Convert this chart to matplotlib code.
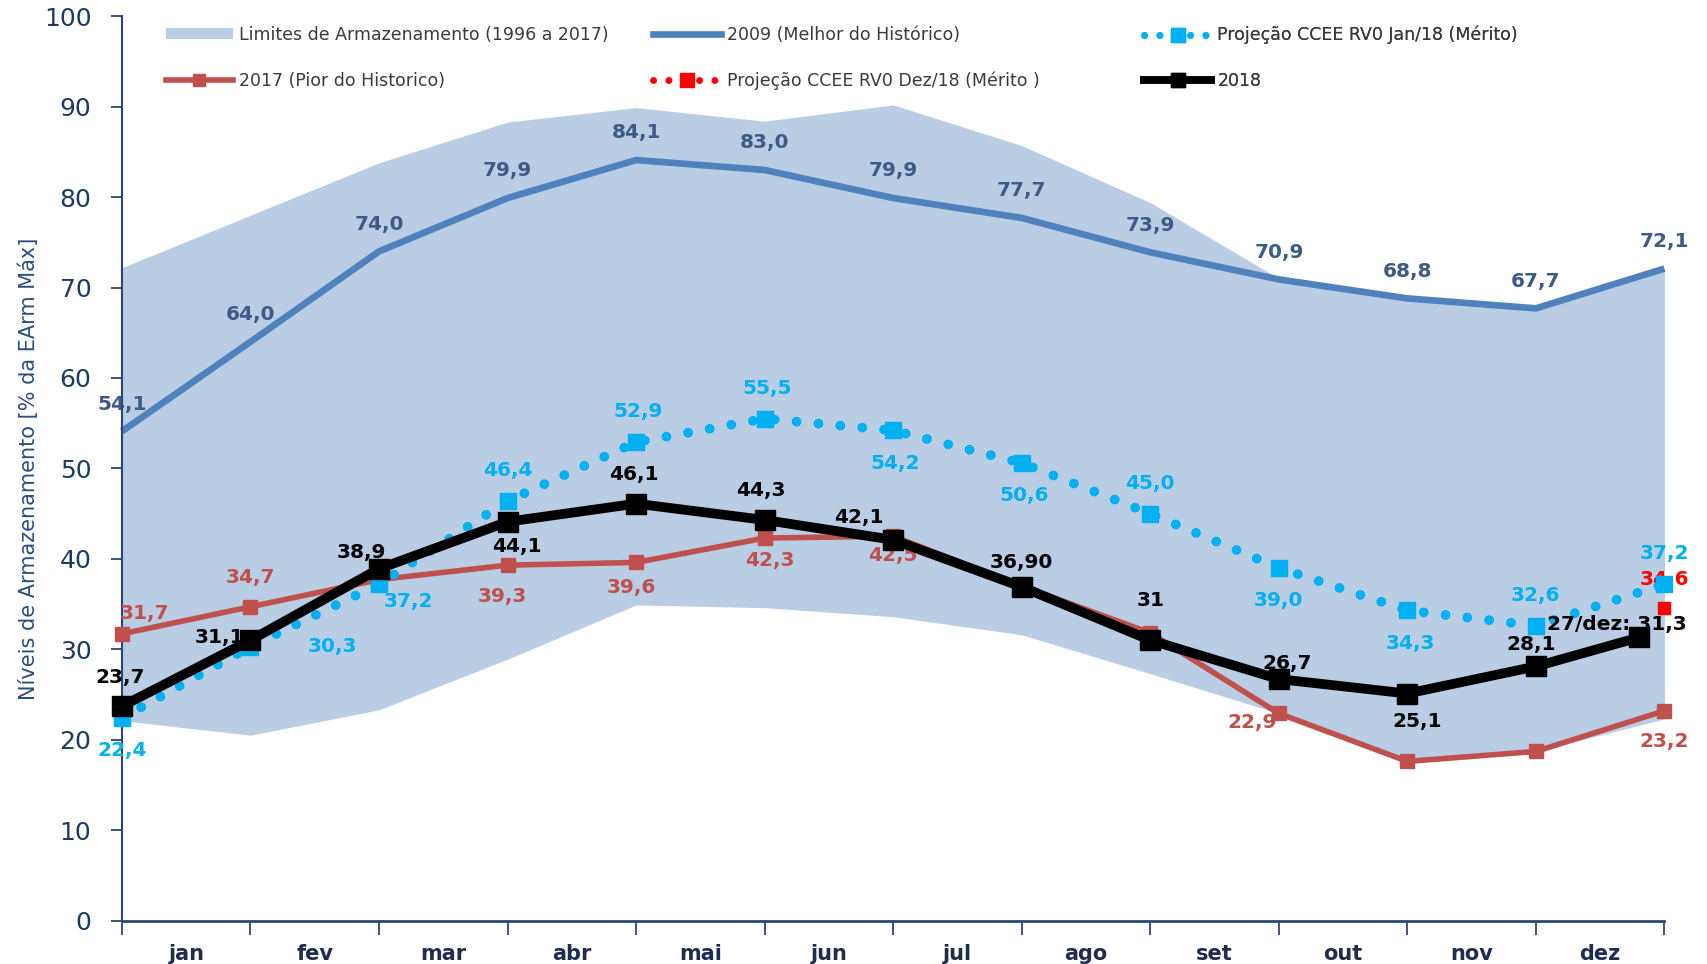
import matplotlib
matplotlib.use("Agg")
import matplotlib.pyplot as plt
from matplotlib.patches import Patch
from matplotlib.lines import Line2D

plt.rcParams['font.family'] = ['DejaVu Sans']

# data
meses = ['jan', 'fev', 'mar', 'abr', 'mai', 'jun', 'jul', 'ago', 'set', 'out', 'nov', 'dez']
x_pts = [0, 1, 2, 3, 4, 5, 6, 7, 8, 9, 10, 11, 12]

lim_sup = [72.2, 78.0, 83.8, 88.3, 89.9, 88.4, 90.2, 85.7, 79.4, 71.0, 68.8, 67.7, 72.1]
lim_inf = [22.1, 20.5, 23.3, 28.9, 34.9, 34.6, 33.6, 31.6, 27.3, 22.9, 17.6, 18.7, 22.3]

v2009 = [54.1, 64.0, 74.0, 79.9, 84.1, 83.0, 79.9, 77.7, 73.9, 70.9, 68.8, 67.7, 72.1]
lab2009 = ['54,1', '64,0', '74,0', '79,9', '84,1', '83,0', '79,9', '77,7', '73,9', '70,9', '68,8', '67,7', '72,1']

v2017 = [31.7, 34.7, 37.7, 39.3, 39.6, 42.3, 42.5, 37.0, 31.8, 22.9, 17.6, 18.7, 23.2]
lab2017 = ['31,7', '34,7', None, '39,3', '39,6', '42,3', '42,5', None, None, '22,9', None, None, '23,2']

proj_jan = [22.4, 30.3, 37.2, 46.4, 52.9, 55.5, 54.2, 50.6, 45.0, 39.0, 34.3, 32.6, 37.2]
lab_jan = ['22,4', '30,3', '37,2', '46,4', '52,9', '55,5', '54,2', '50,6', '45,0', '39,0', '34,3', '32,6', '37,2']

x_2018 = [0, 1, 2, 3, 4, 5, 6, 7, 8, 9, 10, 11, 11.8]
v2018 = [23.7, 31.0, 38.9, 44.1, 46.1, 44.3, 42.1, 36.9, 31.0, 26.7, 25.1, 28.1, 31.3]
lab2018 = ['23,7', '31,1', '38,9', '44,1', '46,1', '44,3', '42,1', '36,90', '31', '26,7', '25,1', '28,1', '27/dez: 31,3']

x_dez = [12]
proj_dez = [34.6]
lab_dez = ['34,6']

# label offsets (points)
off2009 = [(0, 19.5)] * 13
off_jan = [(0, -23.5), (59, 0), (21, -12.5), (0, 22), (1.5, 22), (2, 22), (1.5, -24),
           (1.5, -23.5), (0, 22), (0, -23.5), (2, -24), (0, 22), (0, 22)]
off2017 = [(16.5, 15), (0, 21), None, (-4, -22.5), (-3.5, -18), (4, -16), (0, -14),
           None, None, (-19.5, -6.5), None, None, (0, -22)]
off2018 = [(-1, 21), (-22, 2), (-13, 12), (6.5, -18), (-1.5, 21), (-3, 21), (-24.5, 16),
           (0, 17.5), (0, 28.5), (6, 11), (7, -20), (-3.5, 16), (-16, 9)]
off_dez = [(0, 20)]

c_fill = '#B9CDE5'
c_2009 = '#4F81BD'
c_2017 = '#C0504D'
c_jan = '#00B0F0'
c_dez = '#FF0000'
c_axis = '#2B4675'

fig = plt.figure(figsize=(17.08, 9.64), dpi=100)
ax = fig.add_axes([0.0714, 0.0451, 0.9031, 0.938])

ax.fill_between(x_pts, lim_inf, lim_sup, color=c_fill, lw=0, zorder=1)
ax.plot(x_pts, v2009, color=c_2009, lw=4.8, zorder=2.4, clip_on=False, solid_capstyle='butt')
ax.plot(x_pts, v2017, color=c_2017, lw=4, marker='s', ms=10, zorder=3, clip_on=False)
ax.plot(x_pts, proj_jan, color=c_jan, lw=7, linestyle=(0, (0.01, 2.25)), dash_capstyle='round',
        marker='s', ms=12, zorder=4, clip_on=False)
ax.plot(x_dez, proj_dez, color=c_dez, linestyle='none', marker='s', ms=9, zorder=4.2, clip_on=False)
ax.plot(x_2018, v2018, color='black', lw=7, marker='s', ms=14, zorder=5, clip_on=False)


def rotulos(xs, ys, labs, offs, cor, z):
    for xv, yv, t, o in zip(xs, ys, labs, offs):
        if t is None:
            continue
        ax.annotate(t, (xv, yv), xytext=o, textcoords='offset points', ha='center', va='center',
                    fontsize=14.5, fontweight='bold', color=cor, zorder=z, annotation_clip=False)


rotulos(x_pts, v2009, lab2009, off2009, '#3E5B86', 2.2)
rotulos(x_pts, v2017, lab2017, off2017, c_2017, 2.6)
rotulos(x_pts, proj_jan, lab_jan, off_jan, c_jan, 3.5)
rotulos(x_dez, proj_dez, lab_dez, off_dez, c_dez, 3.6)
rotulos(x_2018, v2018, lab2018, off2018, 'black', 4.5)

ax.set_xlim(0, 12)
ax.set_ylim(0, 100)
ax.set_yticks(range(0, 101, 10))
ax.set_xticks(x_pts)
ax.set_xticklabels([])
ax.set_xticks([i + 0.5 for i in range(12)], minor=True)
ax.set_xticklabels(meses, minor=True, fontsize=15, fontweight='bold', color='#1F2D4D')
ax.tick_params(axis='x', which='major', length=10, width=1.3, color=c_axis, direction='out')
ax.tick_params(axis='x', which='minor', length=0, pad=17)
ax.tick_params(axis='y', length=8, width=1.3, color=c_axis, labelsize=18, labelcolor='#1F3A60', pad=14)

for s in ['top', 'right']:
    ax.spines[s].set_visible(False)
for s in ['left', 'bottom']:
    ax.spines[s].set_color(c_axis)
    ax.spines[s].set_linewidth(1.5)
ax.spines['bottom'].set_linewidth(2)

ax.set_ylabel('Níveis de Armazenamento [% da EArm Máx]', fontsize=15, color='#2A4E7E')
ax.yaxis.set_label_coords(-0.054, 0.5)

# legend: three columns placed individually
h_fill = Patch(facecolor=c_fill, edgecolor='none')
h_2009 = Line2D([], [], color=c_2009, lw=4.8)
h_jan = Line2D([], [], color=c_jan, lw=5, linestyle=(0, (0.01, 2.2)), dash_capstyle='round',
               marker='s', ms=10)
h_2017 = Line2D([], [], color=c_2017, lw=4, marker='s', ms=9)
h_dez = Line2D([], [], color=c_dez, lw=5, linestyle=(0, (0.01, 2.2)), dash_capstyle='round',
               marker='s', ms=10)
h_2018 = Line2D([], [], color='black', lw=5.5, marker='s', ms=10)

cols = [
    ([h_fill, h_2017], ['Limites de Armazenamento (1996 a 2017)', '2017 (Pior do Historico)'], 0.0283),
    ([h_2009, h_dez], ['2009 (Melhor do Histórico)', 'Projeção CCEE RV0 Dez/18 (Mérito )'], 0.3446),
    ([h_jan, h_2018], ['Projeção CCEE RV0 Jan/18 (Mérito)', '2018'], 0.6624),
]
for hs, ls, xpos in cols:
    leg = ax.legend(hs, ls, loc='upper left', bbox_to_anchor=(xpos, 0.9895), frameon=False,
                    fontsize=12.5, handlelength=3.9, handletextpad=0.35, labelspacing=1.6,
                    borderpad=0, borderaxespad=0, labelcolor='#3A3A3A', handleheight=0.55)
    ax.add_artist(leg)

fig.savefig('out.png', dpi=100)
